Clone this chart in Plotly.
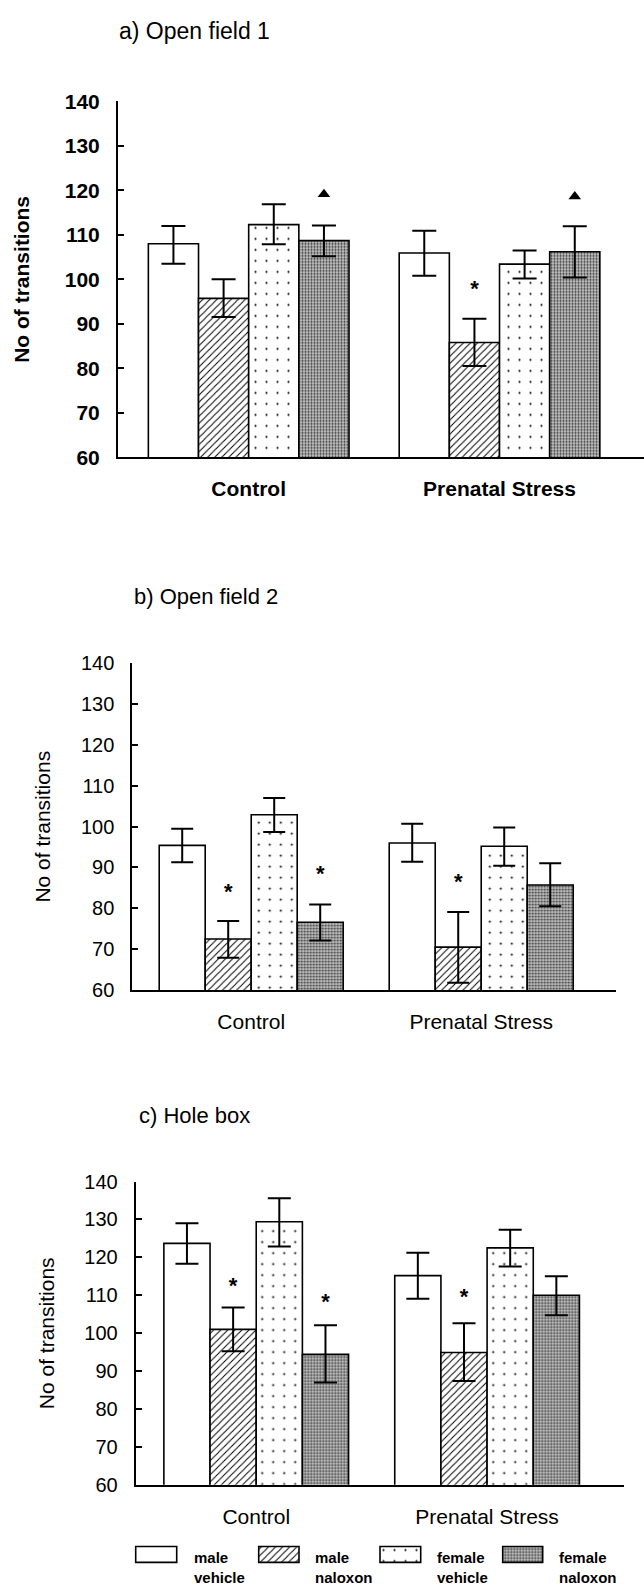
import plotly.graph_objects as go

# ---------------- data ----------------
categories = ["Control", "Prenatal Stress"]
series_names = ["male vehicle", "male naloxon", "female vehicle", "female naloxon"]
legend_labels = ["male<br>vehicle", "male<br>naloxon", "female<br>vehicle", "female<br>naloxon"]
y_ticks = [60, 70, 80, 90, 100, 110, 120, 130, 140]

# a) Open field 1   (rows: series, cols: Control, Prenatal Stress)
a_mean = [[108.0, 105.9], [95.7, 85.8], [112.3, 103.4], [108.7, 106.2]]
a_hi = [[112.0, 110.9], [100.0, 91.1], [116.9, 106.5], [112.1, 111.9]]
a_lo = [[103.5, 100.8], [91.5, 80.5], [107.9, 100.2], [105.2, 100.4]]
a_stars = [(1, 1, 97.4)]            # (group, series, y)
a_triangles = [(0, 3, 119.1), (1, 3, 118.6)]

# b) Open field 2
b_mean = [[95.4, 96.0], [72.5, 70.5], [102.9, 95.2], [76.6, 85.7]]
b_hi = [[99.5, 100.7], [76.9, 79.1], [107.0, 99.8], [80.9, 91.0]]
b_lo = [[91.3, 91.4], [67.9, 61.8], [98.7, 90.4], [72.1, 80.5]]
b_stars = [(0, 1, 83.5), (0, 3, 88.1), (1, 1, 86.0)]
b_triangles = []

# c) Hole box
c_mean = [[123.7, 115.2], [101.0, 94.9], [129.4, 122.5], [94.4, 110.0]]
c_hi = [[129.0, 121.2], [106.8, 102.6], [135.6, 127.3], [102.1, 115.0]]
c_lo = [[118.3, 109.1], [95.2, 87.4], [122.9, 117.6], [87.0, 104.7]]
c_stars = [(0, 1, 112.0), (0, 3, 107.9), (1, 1, 109.2)]
c_triangles = []

# ---------------- layout / style ----------------
W, H = 644, 1596
FONT = "Liberation Sans, Arial, sans-serif"
BARGAP = 0.2


def fx(p):
    return p / W


def fy(p):
    return 1 - p / H


styles = [
    dict(color="white", shape="", fg="black", bg="white", size=8, sol=0.2),
    dict(color="white", shape="/", fg="black", bg="white", size=5, sol=0.2),
    dict(color="white", shape=".", fg="black", bg="white", size=11, sol=0.03),
    dict(color="#b0b0b0", shape=".", fg="#333333", bg="#c4c4c4", size=3, sol=0.4),
]

panels = [
    dict(title="a) Open field 1", mean=a_mean, hi=a_hi, lo=a_lo, stars=a_stars, tris=a_triangles,
         left=118, right=644, top=90.7, bottom=451.7, xr=[-0.521, 1.576],
         weight="bold", tick_size=21, cat_size=21, cap=12,
         title_x=117, title_y=19, title_size=23,
         ytitle_x=21.5, ytitle_size=21, ytitle_weight="bold"),
    dict(title="b) Open field 2", mean=b_mean, hi=b_hi, lo=b_lo, stars=b_stars, tris=b_triangles,
         left=132.3, right=616, top=660.7, bottom=992.3, xr=[-0.517, 1.586],
         weight="normal", tick_size=20, cat_size=21, cap=11,
         title_x=131.7, title_y=593, title_size=22,
         ytitle_x=43, ytitle_size=21, ytitle_weight="normal"),
    dict(title="c) Hole box", mean=c_mean, hi=c_hi, lo=c_lo, stars=c_stars, tris=c_triangles,
         left=135.7, right=624, top=1186.7, bottom=1494.3, xr=[-0.522, 1.593],
         weight="normal", tick_size=20, cat_size=21, cap=11.5,
         title_x=136.7, title_y=1120, title_size=22,
         ytitle_x=46, ytitle_size=21, ytitle_weight="normal"),
]

bar_w = (1 - BARGAP) / 4
offsets = [-(1 - BARGAP) / 2 + (i + 0.5) * bar_w for i in range(4)]

fig = go.Figure()
annotations = []
layout_axes = {}


def pattern_of(st):
    return dict(shape=st["shape"], fgcolor=st["fg"], bgcolor=st["bg"],
                size=st["size"], solidity=st["sol"], fillmode="replace")


for k, p in enumerate(panels):
    sfx = "" if k == 0 else str(k + 1)
    xa, ya = "x" + sfx, "y" + sfx
    for i in range(4):
        st = styles[i]
        fig.add_trace(go.Bar(
            x=[0, 1], y=p["mean"][i], name=series_names[i],
            xaxis=xa, yaxis=ya, showlegend=False,
            marker=dict(color=st["color"], line=dict(color="black", width=1.6),
                        pattern=pattern_of(st)),
            error_y=dict(type="data", symmetric=False,
                         array=[h - m for h, m in zip(p["hi"][i], p["mean"][i])],
                         arrayminus=[m - l for m, l in zip(p["mean"][i], p["lo"][i])],
                         color="black", thickness=2, width=p["cap"]),
        ))
    if p["stars"]:
        fig.add_trace(go.Scatter(
            x=[g + offsets[s] for g, s, _ in p["stars"]], y=[v for _, _, v in p["stars"]],
            mode="text", text=["*"] * len(p["stars"]), textposition="middle center",
            textfont=dict(family=FONT, size=22, color="black", weight="bold"),
            xaxis=xa, yaxis=ya, showlegend=False, cliponaxis=False))
    if p["tris"]:
        fig.add_trace(go.Scatter(
            x=[g + offsets[s] for g, s, _ in p["tris"]], y=[v for _, _, v in p["tris"]],
            mode="markers", marker=dict(symbol="triangle-up", size=11, color="black"),
            xaxis=xa, yaxis=ya, showlegend=False, cliponaxis=False))

    xname = "xaxis" + sfx
    yname = "yaxis" + sfx
    layout_axes[xname] = dict(
        domain=[fx(p["left"]), fx(p["right"])], anchor=ya, range=p["xr"],
        tickvals=[0, 1], ticktext=categories, ticks="", showgrid=False, zeroline=False,
        showline=True, linecolor="black", linewidth=2,
        tickfont=dict(family=FONT, size=p["cat_size"], color="black", weight=p["weight"]),
        ticklabelstandoff=12, fixedrange=True)
    layout_axes[yname] = dict(
        domain=[fy(p["bottom"]), fy(p["top"])], anchor=xa, range=[60, 140],
        tickvals=y_ticks, ticks="inside", ticklen=6, tickwidth=2, tickcolor="black",
        showgrid=False, zeroline=False, showline=True, linecolor="black", linewidth=2,
        tickfont=dict(family=FONT, size=p["tick_size"], color="black", weight=p["weight"]),
        ticklabelstandoff=12, fixedrange=True)

    annotations.append(dict(
        text=p["title"], xref="paper", yref="paper", x=fx(p["title_x"]), y=fy(p["title_y"]),
        xanchor="left", yanchor="middle", showarrow=False,
        font=dict(family=FONT, size=p["title_size"], color="black")))
    annotations.append(dict(
        text="No of transitions", xref="paper", yref="paper",
        x=fx(p["ytitle_x"]), y=fy((p["top"] + p["bottom"]) / 2), textangle=-90,
        xanchor="center", yanchor="middle", showarrow=False,
        font=dict(family=FONT, size=p["ytitle_size"], color="black", weight=p["ytitle_weight"])))

# ---------------- legend (patterned swatches, one tiny axis each) ----------------
leg_left = [135.7, 258.7, 380.0, 502.7]
leg_width = [41.0, 40.3, 40.7, 40.0]
leg_text_x = [192.3, 313.3, 434.8, 556.5]
leg_top, leg_bot = 1557.0, 1573.0
padpx = 2.0

for j in range(4):
    n = 4 + j
    st = styles[j]
    l, w = leg_left[j], leg_width[j]
    hgt = leg_bot - leg_top
    fig.add_trace(go.Bar(
        x=[0.5], y=[1], base=0, width=[1.0], xaxis="x%d" % n, yaxis="y%d" % n,
        showlegend=False, hoverinfo="skip", name=series_names[j],
        marker=dict(color=st["color"], line=dict(color="black", width=1.6),
                    pattern=pattern_of(st))))
    layout_axes["xaxis%d" % n] = dict(domain=[fx(l - padpx), fx(l + w + padpx)],
                                      range=[-padpx / w, 1 + padpx / w], visible=False,
                                      anchor="y%d" % n, fixedrange=True)
    layout_axes["yaxis%d" % n] = dict(domain=[fy(leg_bot + padpx), fy(leg_top - padpx)],
                                      range=[-padpx / hgt, 1 + padpx / hgt], visible=False,
                                      anchor="x%d" % n, fixedrange=True)

for tx, lab in zip(leg_text_x, legend_labels):
    annotations.append(dict(
        text=lab, xref="paper", yref="paper", x=fx(tx), y=fy(1577.8),
        xanchor="left", yanchor="middle", align="left", showarrow=False,
        font=dict(family=FONT, size=15, color="black", weight="bold")))

fig.update_layout(
    width=W, height=H, margin=dict(l=0, r=0, t=0, b=0),
    paper_bgcolor="white", plot_bgcolor="white",
    barmode="group", bargap=BARGAP, bargroupgap=0,
    annotations=annotations, showlegend=False,
    **layout_axes,
)

fig.write_html("out.html", config={"displayModeBar": False, "staticPlot": True},
               post_script="document.body.style.margin='0';document.body.style.overflow='hidden';")
